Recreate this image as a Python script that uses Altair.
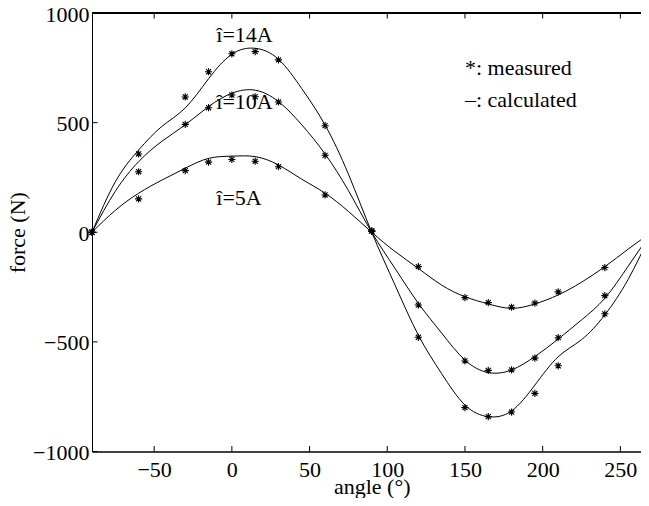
import altair as alt
import pandas as pd

FONT = "Liberation Serif"

# measured points (angle in degrees, force in N)
angles_meas = [-90, -60, -30, -15, 0, 15, 30, 60, 90, 120, 150, 165, 180, 195, 210, 240, 270]
meas_14 = [0, 357, 617, 732, 814, 824, 786, 486, 5, -479, -800, -841, -820, -735, -609, -372, 0]
meas_10 = [0, 276, 492, 568, 626, 618, 594, 351, 5, -332, -587, -630, -628, -574, -481, -289, 0]
meas_5 = [0, 152, 281, 320, 332, 324, 299, 170, 5, -157, -298, -321, -342, -323, -272, -161, 0]

# calculated curves
angles_calc = [-90, -75, -60, -45, -30, -15, 0, 15, 30, 45, 60, 75, 90,
               105, 120, 135, 150, 165, 180, 195, 210, 225, 240, 255, 270]
calc_14 = [0, 230, 375, 483, 567, 700, 812, 839, 789, 655, 489, 265, 0,
           -241, -469, -645, -788, -841, -815, -697, -568, -490, -377, -215, 0]
calc_10 = [0, 187, 322, 415, 490, 573, 634, 648, 596, 490, 357, 190, 0,
           -165, -324, -460, -583, -640, -628, -567, -487, -400, -301, -155, 0]
calc_5 = [0, 100, 178, 238, 292, 337, 347, 345, 307, 242, 178, 95, 0,
          -88, -165, -241, -294, -327, -347, -327, -286, -228, -157, -77, 0]

x_ticks = [-50, 0, 50, 100, 150, 200, 250]
y_ticks = [-1000, -500, 0, 500, 1000]

label_text = ["î=14A", "î=10A", "î=5A", "*: measured", "–: calculated"]
label_angle = [-10, -10, -10, 150, 150]
label_force = [900, 595, 156, 749, 604]

# The reference frame spans -90..270 and its right edge lies just past the window;
# the visible part is kept at the reference's pixel scale.
PX_PER_DEG = 1.554
W, H = 549, 438.5
X_END = -90 + W / PX_PER_DEG
TICK = 5.5
FS = 22

calc_df = pd.concat([
    pd.DataFrame({"angle": angles_calc, "force": v, "series": s})
    for s, v in [("14A", calc_14), ("10A", calc_10), ("5A", calc_5)]
])
meas_df = pd.concat([
    pd.DataFrame({"angle": angles_meas, "force": v, "series": s})
    for s, v in [("14A", meas_14), ("10A", meas_10), ("5A", meas_5)]
])
lab_df = pd.DataFrame({"angle": label_angle, "force": label_force, "text": label_text})
xt_df = pd.DataFrame({"angle": x_ticks})
yt_df = pd.DataFrame({"force": y_ticks})

xscale = alt.Scale(domain=[-90, X_END], nice=False, zero=False)
yscale = alt.Scale(domain=[-1000, 1000], nice=False, zero=False)

x_axis = alt.Axis(values=x_ticks, format="d", title="angle (°)", ticks=False, tickSize=0,
                  domain=True, domainColor="black", domainWidth=1.5, grid=False,
                  labelFont=FONT, labelFontSize=FS,
                  labelColor="black", labelPadding=8, labelFlush=False, labelOverlap=False,
                  titleFont=FONT, titleFontSize=FS, titleFontWeight="normal",
                  titleColor="black", titleX=(270 + 90) * PX_PER_DEG / 2, titleY=35,
                  titleBaseline="middle", titleAlign="center")
y_axis = alt.Axis(values=y_ticks, format="d", title="force (N)", ticks=False, tickSize=0,
                  domain=True, domainColor="black", domainWidth=1, grid=False,
                  labelFont=FONT, labelFontSize=FS,
                  labelColor="black", labelPadding=3, labelFlush=False, labelOverlap=False,
                  labelOffset=1,
                  titleFont=FONT, titleFontSize=FS, titleFontWeight="normal",
                  titleColor="black", titleX=-75, titleY=H / 2, titleBaseline="middle",
                  titleAlign="center", titleAngle=270)

X = alt.X("angle:Q", scale=xscale, axis=x_axis)
Y = alt.Y("force:Q", scale=yscale, axis=y_axis)

lines = alt.Chart(calc_df).mark_line(interpolate="natural", color="black", strokeWidth=1,
                                     clip=True).encode(x=X, y=Y, detail="series:N")

ASTER = "M-1,0L1,0M0,-1L0,1M-0.7,-0.7L0.7,0.7M-0.7,0.7L0.7,-0.7"
points = alt.Chart(meas_df).mark_point(shape=ASTER, filled=False, color="black",
                                       strokeWidth=1.1, size=52, opacity=1).encode(x=X, y=Y)

texts = alt.Chart(lab_df).mark_text(align="left", baseline="middle", font=FONT,
                                    fontSize=FS, color="black").encode(x=X, y=Y, text="text:N")

top_line = alt.Chart(xt_df).mark_rule(color="black", strokeWidth=1).encode(
    x=alt.value(0), x2=alt.value(W), y=alt.value(0))
tick_b = alt.Chart(xt_df).mark_rule(color="black", strokeWidth=1).encode(
    x=X, y=alt.value(H), y2=alt.value(H - TICK))
tick_t = alt.Chart(xt_df).mark_rule(color="black", strokeWidth=1).encode(
    x=X, y=alt.value(0), y2=alt.value(TICK))
tick_l = alt.Chart(yt_df).mark_rule(color="black", strokeWidth=1).encode(
    y=Y, x=alt.value(0), x2=alt.value(TICK))

chart = alt.layer(lines, points, texts, top_line, tick_b, tick_t, tick_l).properties(
    width=W, height=H,
    autosize=alt.AutoSizeParams(type="none"),
    padding={"left": 84, "top": 5, "right": 0, "bottom": 46.5},
    background="white",
).configure_view(strokeWidth=0)

chart.save("out.html", embed_options={"renderer": "svg", "actions": False})
